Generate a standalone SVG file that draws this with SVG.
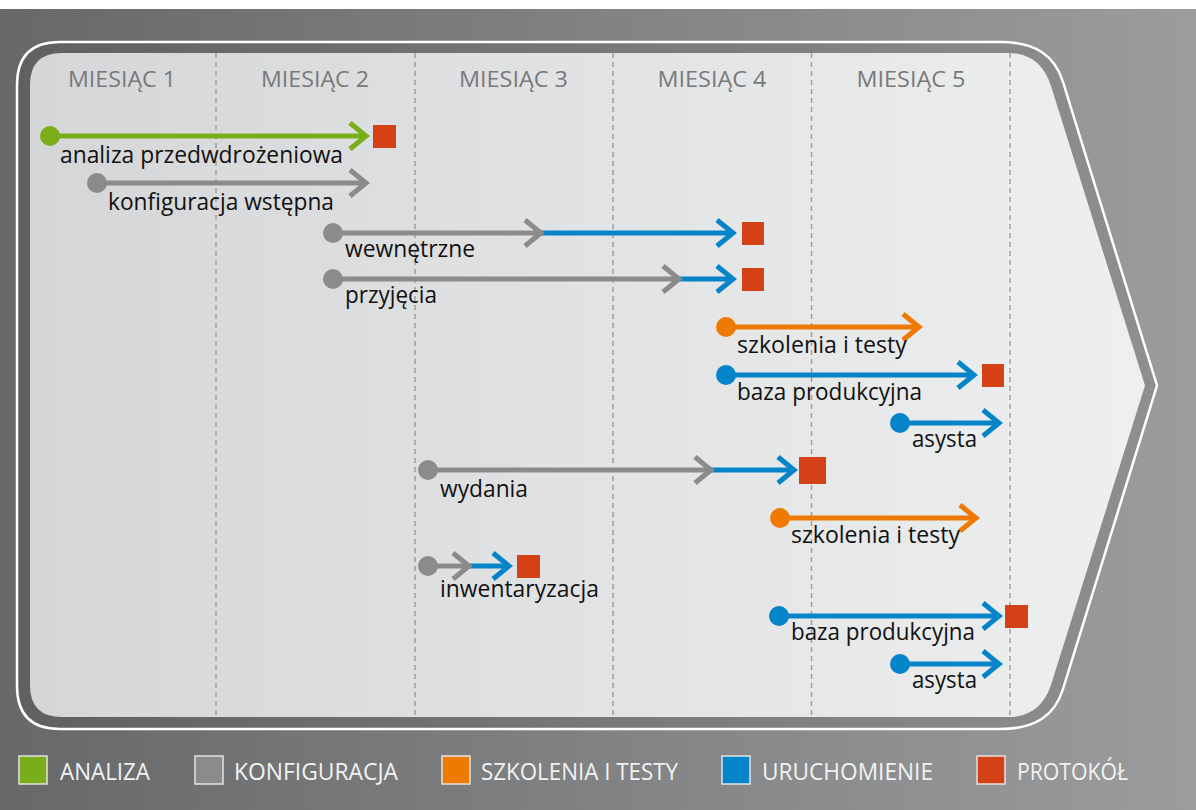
<svg xmlns="http://www.w3.org/2000/svg" xmlns:xlink="http://www.w3.org/1999/xlink" width="1196" height="810" viewBox="0 0 1196 810">
<defs>
<linearGradient id="bg" x1="0" y1="0" x2="1" y2="0">
<stop offset="0" stop-color="#67686a"/>
<stop offset="1" stop-color="#9b9c9e"/>
</linearGradient>
<linearGradient id="band" x1="0" y1="0" x2="1" y2="0">
<stop offset="0" stop-color="#5f6062"/>
<stop offset="1" stop-color="#8e8f91"/>
</linearGradient>
<linearGradient id="panel" x1="0" y1="0" x2="1" y2="0">
<stop offset="0" stop-color="#d5d6d8"/>
<stop offset="1" stop-color="#eeefef"/>
</linearGradient>
<path id="chev" d="M-16,-13 L0,0 L-16,13" fill="none" stroke-width="5" stroke-linejoin="miter" stroke-miterlimit="6"/>
<style>
.month{font-family:"Open Sans","Noto Sans",sans-serif;font-size:22px;fill:#78797b;text-anchor:middle}
.lbl{font-family:"Open Sans","Noto Sans",sans-serif;font-size:24px;fill:#111111}
.leg{font-family:"Open Sans","Noto Sans",sans-serif;font-size:23px;fill:#f2f2f2}
.grid{stroke:#9a9b9c;stroke-width:1.4;stroke-dasharray:5 4}
.ln{stroke-width:5;fill:none}
.g{stroke:#7aad1a}.g2{fill:#7aad1a}
.k{stroke:#8b8b8c}.k2{fill:#8b8b8c}
.o{stroke:#ee7a04}.o2{fill:#ee7a04}
.b{stroke:#0584c9}.b2{fill:#0584c9}
.sq{fill:#d54116}
.legsq{stroke:#e4e4e4;stroke-width:1.5}
</style>
</defs>
<rect width="1196" height="810" fill="#ffffff"/>
<rect y="9" width="1196" height="801" fill="url(#bg)"/>
<g id="frame">
<path d="M60,42 L1000,42 C1036,42 1055,56 1063,82 L1157,385.5 L1063,689 C1055,715 1036,729 1000,729 L60,729 Q17,729 17,686 L17,85 Q17,42 60,42 Z" fill="url(#band)" stroke="#ffffff" stroke-width="2.5"/>
<path d="M62,53 L1008,53 C1030,53 1044,64 1051,86 L1145,385.5 L1051,685 C1044,706 1030,717 1008,717 L62,717 Q30,717 30,685 L30,85 Q30,53 62,53 Z" fill="url(#panel)"/>
</g>
<g id="grid">
<line class="grid" x1="216" y1="53" x2="216" y2="717"/>
<line class="grid" x1="415" y1="53" x2="415" y2="717"/>
<line class="grid" x1="613" y1="53" x2="613" y2="717"/>
<line class="grid" x1="811.5" y1="53" x2="811.5" y2="717"/>
<line class="grid" x1="1010" y1="53" x2="1010" y2="717"/>
</g>
<g id="months">
<text class="month" x="122" y="87" textLength="108" lengthAdjust="spacingAndGlyphs">MIESIĄC 1</text>
<text class="month" x="315" y="87" textLength="108" lengthAdjust="spacingAndGlyphs">MIESIĄC 2</text>
<text class="month" x="513.5" y="87" textLength="109" lengthAdjust="spacingAndGlyphs">MIESIĄC 3</text>
<text class="month" x="712" y="87" textLength="109" lengthAdjust="spacingAndGlyphs">MIESIĄC 4</text>
<text class="month" x="911" y="87" textLength="109" lengthAdjust="spacingAndGlyphs">MIESIĄC 5</text>
</g>
<g id="connectors">
<line class="ln g" x1="50" y1="136" x2="366" y2="136"/>
<use xlink:href="#chev" href="#chev" x="366" y="136" class="g"/>
<line class="ln k" x1="97" y1="183" x2="366" y2="183"/>
<use xlink:href="#chev" href="#chev" x="366" y="183" class="k"/>
<line class="ln k" x1="333" y1="233" x2="541" y2="233"/>
<line class="ln b" x1="541" y1="233" x2="733" y2="233"/>
<use xlink:href="#chev" href="#chev" x="541" y="233" class="k"/>
<use xlink:href="#chev" href="#chev" x="733" y="233" class="b"/>
<line class="ln k" x1="333" y1="279" x2="679" y2="279"/>
<line class="ln b" x1="679" y1="279" x2="733" y2="279"/>
<use xlink:href="#chev" href="#chev" x="679" y="279" class="k"/>
<use xlink:href="#chev" href="#chev" x="733" y="279" class="b"/>
<line class="ln o" x1="726" y1="327" x2="919" y2="327"/>
<use xlink:href="#chev" href="#chev" x="919" y="327" class="o"/>
<line class="ln b" x1="726" y1="375" x2="974" y2="375"/>
<use xlink:href="#chev" href="#chev" x="974" y="375" class="b"/>
<line class="ln b" x1="900" y1="423" x2="999" y2="423"/>
<use xlink:href="#chev" href="#chev" x="999" y="423" class="b"/>
<line class="ln k" x1="428" y1="470" x2="711" y2="470"/>
<line class="ln b" x1="711" y1="470" x2="794" y2="470"/>
<use xlink:href="#chev" href="#chev" x="711" y="470" class="k"/>
<use xlink:href="#chev" href="#chev" x="794" y="470" class="b"/>
<line class="ln o" x1="780" y1="518" x2="976" y2="518"/>
<use xlink:href="#chev" href="#chev" x="976" y="518" class="o"/>
<line class="ln k" x1="428" y1="566" x2="469" y2="566"/>
<line class="ln b" x1="469" y1="566" x2="509" y2="566"/>
<use xlink:href="#chev" href="#chev" x="469" y="566" class="k"/>
<use xlink:href="#chev" href="#chev" x="509" y="566" class="b"/>
<line class="ln b" x1="779" y1="616" x2="999" y2="616"/>
<use xlink:href="#chev" href="#chev" x="999" y="616" class="b"/>
<line class="ln b" x1="900" y1="664" x2="999" y2="664"/>
<use xlink:href="#chev" href="#chev" x="999" y="664" class="b"/>
</g>
<g id="task1"><circle class="g2" cx="50" cy="136" r="10"/><rect class="sq" x="373" y="125" width="23" height="23"/><text class="lbl" x="60" y="163" textLength="283" lengthAdjust="spacingAndGlyphs">analiza przedwdrożeniowa</text></g>
<g id="task2"><circle class="k2" cx="97" cy="183" r="10"/><text class="lbl" x="108" y="210" textLength="226" lengthAdjust="spacingAndGlyphs">konfiguracja wstępna</text></g>
<g id="task3"><circle class="k2" cx="333" cy="233" r="10"/><rect class="sq" x="742" y="222" width="22" height="23"/><text class="lbl" x="345" y="257" textLength="130" lengthAdjust="spacingAndGlyphs">wewnętrzne</text></g>
<g id="task4"><circle class="k2" cx="333" cy="279" r="10"/><rect class="sq" x="742" y="268" width="22" height="23"/><text class="lbl" x="345" y="303" textLength="92" lengthAdjust="spacingAndGlyphs">przyjęcia</text></g>
<g id="task5"><circle class="o2" cx="726" cy="327" r="10"/><text class="lbl" x="737" y="353" textLength="170" lengthAdjust="spacingAndGlyphs">szkolenia i testy</text></g>
<g id="task6"><circle class="b2" cx="726" cy="375" r="10"/><rect class="sq" x="982" y="364" width="22" height="23"/><text class="lbl" x="737" y="400" textLength="185" lengthAdjust="spacingAndGlyphs">baza produkcyjna</text></g>
<g id="task7"><circle class="b2" cx="900" cy="423" r="10"/><text class="lbl" x="912" y="447" textLength="65" lengthAdjust="spacingAndGlyphs">asysta</text></g>
<g id="task8"><circle class="k2" cx="428" cy="470" r="10"/><rect class="sq" x="799" y="457" width="27" height="27"/><text class="lbl" x="440" y="497" textLength="88" lengthAdjust="spacingAndGlyphs">wydania</text></g>
<g id="task9"><circle class="o2" cx="780" cy="518" r="10"/><text class="lbl" x="791" y="543" textLength="169" lengthAdjust="spacingAndGlyphs">szkolenia i testy</text></g>
<g id="task10"><circle class="k2" cx="428" cy="566" r="10"/><rect class="sq" x="517" y="555" width="23" height="23"/><text class="lbl" x="440" y="597" textLength="159" lengthAdjust="spacingAndGlyphs">inwentaryzacja</text></g>
<g id="task11"><circle class="b2" cx="779" cy="616" r="10"/><rect class="sq" x="1005" y="605" width="23" height="23"/><text class="lbl" x="791" y="640" textLength="184" lengthAdjust="spacingAndGlyphs">baza produkcyjna</text></g>
<g id="task12"><circle class="b2" cx="900" cy="664" r="10"/><text class="lbl" x="912" y="688" textLength="65" lengthAdjust="spacingAndGlyphs">asysta</text></g>
<g id="legend">
<rect class="legsq" x="19" y="756" width="28" height="28" fill="#7aad1a"/>
<text class="leg" x="60" y="780" textLength="90" lengthAdjust="spacingAndGlyphs">ANALIZA</text>
<rect class="legsq" x="195" y="756" width="28" height="28" fill="#8b8b8c"/>
<text class="leg" x="234" y="780" textLength="164" lengthAdjust="spacingAndGlyphs">KONFIGURACJA</text>
<rect class="legsq" x="442" y="756" width="28" height="28" fill="#ee7a04"/>
<text class="leg" x="481" y="780" textLength="197" lengthAdjust="spacingAndGlyphs">SZKOLENIA I TESTY</text>
<rect class="legsq" x="722" y="756" width="28" height="28" fill="#0584c9"/>
<text class="leg" x="762" y="780" textLength="171" lengthAdjust="spacingAndGlyphs">URUCHOMIENIE</text>
<rect class="legsq" x="977" y="756" width="28" height="28" fill="#d54116"/>
<text class="leg" x="1017" y="780" textLength="111" lengthAdjust="spacingAndGlyphs">PROTOKÓŁ</text>
</g>
</svg>
